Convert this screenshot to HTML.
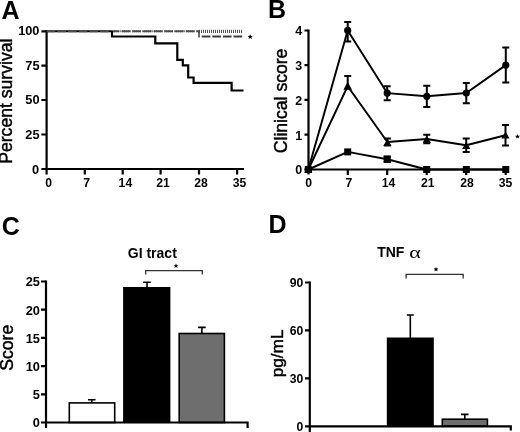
<!DOCTYPE html>
<html><head><meta charset="utf-8">
<style>
html,body{margin:0;padding:0;background:#fff;}
body{width:520px;height:432px;overflow:hidden;}
svg{display:block;will-change:transform;}
text{font-family:"Liberation Sans",sans-serif;fill:#000;}
.pl{font-size:25px;font-weight:bold;}
.tk{font-size:12.2px;font-weight:bold;}
.tkb{font-size:12.8px;}
.tkm{font-size:12.5px;}
.yl{font-size:17.6px;stroke:#000;stroke-width:0.45px;}
.ttl{font-size:14px;font-weight:bold;}
</style></head>
<body>
<svg width="520" height="432" viewBox="0 0 520 432">
<rect width="520" height="432" fill="#fff"/>

<!-- ============ PANEL A ============ -->
<text class="pl" x="1.5" y="19.1">A</text>
<text class="yl" transform="translate(12.4,101.2) rotate(-90)" text-anchor="middle">Percent survival</text>
<g stroke="#000" stroke-width="2.2" fill="none">
  <path d="M46.6,30.1 V174.5"/>
  <path d="M41.4,169 H244"/>
  <path d="M41.4,31.3 H47 M41.4,65.6 H47 M41.4,100 H47 M41.4,134.5 H47"/>
  <path d="M84.8,169 V174.5 M122.7,169 V174.5 M160.6,169 V174.5 M199,169 V174.5 M237.1,169 V174.5"/>
</g>
<g class="tk" text-anchor="end">
  <text class="tkb" x="39.5" y="35.3">100</text>
  <text class="tkb" x="39.5" y="69.8">75</text>
  <text class="tkb" x="39.5" y="104.4">50</text>
  <text class="tkb" x="39.5" y="138.9">25</text>
  <text class="tkb" x="39.2" y="173.8">0</text>
</g>
<g class="tk" text-anchor="middle">
  <text x="48.6" y="186.8">0</text>
  <text x="86.6" y="186.8">7</text>
  <text x="125.4" y="186.8">14</text>
  <text x="163" y="186.8">21</text>
  <text x="201" y="186.8">28</text>
  <text x="239.6" y="186.8">35</text>
</g>
<!-- dotted group -->
<path d="M199,31.4 H242.2" stroke="#555" stroke-width="3.2" stroke-dasharray="1,1" fill="none"/>
<!-- dashed group -->
<path d="M47,31.2 H112" stroke="#000" stroke-width="2.1" fill="none"/>
<path d="M112,31.2 H199.2" stroke="#888" stroke-width="2" stroke-dasharray="1,1" fill="none"/>
<path d="M46.6,31.2 H199.2" stroke="#4d4d4d" stroke-width="2.1" stroke-dasharray="8.7,2" fill="none"/>
<path d="M199,31 V37.4" stroke="#444" stroke-width="1.6" fill="none"/>
<path d="M201.7,36.6 H242.2" stroke="#3c3c3c" stroke-width="2" stroke-dasharray="8.7,1.9" fill="none"/>
<!-- solid group -->
<path d="M112,31 V36.5 H155.3 V43.4 H177.3 V59.9 H182.8 V65.3 H188.2 V77.5 H193.6 V82.8 H231.6 V90.5 H243.5" stroke="#000" stroke-width="2.2" fill="none"/>
<polygon points="250.2,34.2 251,36 252.8,36.1 251.4,37.2 251.9,39 250.2,38 248.5,39 249,37.2 247.6,36.1 249.4,36" fill="#000"/>

<!-- ============ PANEL B ============ -->
<text class="pl" x="267.9" y="18">B</text>
<text class="yl" transform="translate(286.6,100.9) rotate(-90)" text-anchor="middle">Clinical score</text>
<g stroke="#000" stroke-width="2.2" fill="none">
  <path d="M308.5,29.6 V174.5"/>
  <path d="M304.5,169.5 H509"/>
  <path d="M304.5,30.5 H308.5 M304.5,65.2 H308.5 M304.5,99.9 H308.5 M304.5,134.6 H308.5"/>
  <path d="M347.8,169.5 V175 M387.2,169.5 V175 M426.7,169.5 V175 M466.2,169.5 V175 M505.7,169.5 V175"/>
</g>
<g class="tk" text-anchor="end">
  <text class="tkm" x="302.2" y="35.2">4</text>
  <text class="tkm" x="302.2" y="70">3</text>
  <text class="tkm" x="302.2" y="104.8">2</text>
  <text class="tkm" x="302.2" y="139.5">1</text>
  <text class="tkm" x="302.2" y="174.2">0</text>
</g>
<g class="tk" text-anchor="middle">
  <text x="308.6" y="187">0</text>
  <text x="348.8" y="187">7</text>
  <text x="388.6" y="187">14</text>
  <text x="427.8" y="187">21</text>
  <text x="467" y="187">28</text>
  <text x="505.6" y="187">35</text>
</g>
<g stroke="#000" stroke-width="1.95" fill="none" stroke-linejoin="round">
  <path d="M308.3,169.5 L347.7,30.4 L387.2,93.1 L426.8,96.3 L466.3,93 L505.8,65.1"/>
  <path d="M308.3,169.5 L347.7,86.2 L387.4,142 L426.8,139 L466.2,145.3 L505.5,135.2"/>
  <path d="M308.3,169.5 L347.7,151.9 L387.2,159.3 L426.7,169.5 L466.3,169.5 L505.8,169.5"/>
</g>
<!-- error bars -->
<g stroke="#000" stroke-width="2" fill="none">
  <path d="M347.7,21.9 V41.4 M344.2,21.9 H351.2 M344.2,41.4 H351.2"/>
  <path d="M387.2,86.2 V100.3 M383.7,86.2 H390.7 M383.7,100.3 H390.7"/>
  <path d="M426.8,85.8 V107 M423.3,85.8 H430.3 M423.3,107 H430.3"/>
  <path d="M466.3,83 V103.2 M462.8,83 H469.8 M462.8,103.2 H469.8"/>
  <path d="M505.8,47.6 V82.6 M502.3,47.6 H509.3 M502.3,82.6 H509.3"/>

  <path d="M347.7,76.1 V89 M344.2,76.1 H351.2"/>
  <path d="M387.4,138.5 V145.5 M383.9,138.5 H390.9 M383.9,145.5 H390.9"/>
  <path d="M426.8,134.7 V143.3 M423.3,134.7 H430.3 M423.3,143.3 H430.3"/>
  <path d="M466.2,138.6 V152 M462.7,138.6 H469.7 M462.7,152 H469.7"/>
  <path d="M505.5,124.9 V145.5 M502,124.9 H509 M502,145.5 H509"/>

  <path d="M387.2,156.5 V162.1 M383.7,156.5 H390.7 M383.7,162.1 H390.7"/>
</g>
<!-- markers -->
<g fill="#000">
  <circle cx="308.3" cy="169.5" r="3.6"/>
  <circle cx="347.7" cy="30.4" r="3.6"/>
  <circle cx="387.2" cy="93.1" r="3.6"/>
  <circle cx="426.8" cy="96.3" r="3.6"/>
  <circle cx="466.3" cy="93" r="3.6"/>
  <circle cx="505.8" cy="65.1" r="3.6"/>

  <path d="M308.3,165.7 L312.4,172.9 H304.2z"/>
  <path d="M347.7,81.7 L352,89.8 H343.4z"/>
  <path d="M387.4,138.8 L391.5,146.0 H383.3z"/>
  <path d="M426.8,135.6 L430.9,142.8 H422.7z"/>
  <path d="M466.2,141.7 L470.3,148.9 H462.1z"/>
  <path d="M505.5,131.4 L509.6,138.6 H501.4z"/>
  <rect x="304.8" y="166" width="7" height="7"/>
  <rect x="344.2" y="148.4" width="7" height="7"/>
  <rect x="383.7" y="155.8" width="7" height="7"/>
  <rect x="423.2" y="166" width="7" height="7"/>
  <rect x="462.8" y="166" width="7" height="7"/>
  <rect x="502.3" y="166" width="7" height="7"/>
</g>
<g transform="translate(0,0.8)"><polygon points="517.5,133.2 518.2,134.9 520,135 518.6,136.1 519.1,137.8 517.5,136.8 515.9,137.8 516.4,136.1 515,135 516.8,134.9" fill="#000"/></g>

<!-- ============ PANEL C ============ -->
<text class="pl" x="1.8" y="234.8">C</text>
<text class="yl" transform="translate(13,347.8) rotate(-90)" text-anchor="middle">Score</text>
<text class="ttl" x="152.3" y="258.2" text-anchor="middle">GI tract</text>
<g class="tk" text-anchor="end">
  <text class="tkb" x="39.9" y="286.3">25</text>
  <text class="tkb" x="39.9" y="314.5">20</text>
  <text class="tkb" x="39.9" y="342.7">15</text>
  <text class="tkb" x="39.9" y="370.9">10</text>
  <text class="tkb" x="39.9" y="399.1">5</text>
  <text class="tkb" x="39.9" y="427.2">0</text>
</g>
<!-- bars -->
<rect x="69.3" y="402.9" width="45.4" height="19.6" fill="#fff" stroke="#000" stroke-width="1.6"/>
<rect x="123.1" y="287" width="47.3" height="135.5" fill="#000"/>
<rect x="179.2" y="333.5" width="45.2" height="89" fill="#6e6e6e" stroke="#000" stroke-width="1.6"/>
<g stroke="#000" stroke-width="1.6" fill="none">
  <path d="M91.8,399.7 V403 M88,399.7 H95.6"/>
  <path d="M147,282.2 V287 M143.2,282.2 H150.8"/>
  <path d="M201.9,327.4 V333 M198.1,327.4 H205.7"/>
</g>
<g stroke="#000" stroke-width="2.2" fill="none">
  <path d="M46,280.5 V428"/>
  <path d="M41,422.5 H247.6 V428"/>
  <path d="M41,281.5 H46 M41,309.7 H46 M41,337.9 H46 M41,366.1 H46 M41,394.3 H46"/>
</g>
<path d="M145.7,274.6 V270.6 H202.3 V274.6" stroke="#333" stroke-width="1.3" fill="none"/>
<polygon points="176,263.6 176.7,265.2 178.4,265.3 177.1,266.4 177.6,268 176,267.1 174.4,268 174.9,266.4 173.6,265.3 175.3,265.2" fill="#000"/>

<!-- ============ PANEL D ============ -->
<text class="pl" x="268.6" y="232.6">D</text>
<text class="yl" transform="translate(282.5,353.4) rotate(-90)" text-anchor="middle" style="font-size:17.2px">pg/mL</text>
<text class="ttl" x="377.2" y="256.8">TNF</text>
<text transform="translate(409.2,258) scale(1.38,1)" style="font-family:'Liberation Serif',serif;font-size:16px;">α</text>
<g class="tk" text-anchor="end">
  <text x="303.4" y="287">90</text>
  <text x="303.4" y="335">60</text>
  <text x="303.4" y="383">30</text>
  <text x="303.4" y="430.7">0</text>
</g>
<rect x="386.8" y="337.5" width="47" height="88.8" fill="#000"/>
<rect x="442.3" y="419.2" width="45.1" height="7" fill="#6e6e6e" stroke="#000" stroke-width="1.6"/>
<g stroke="#000" stroke-width="1.6" fill="none">
  <path d="M410.3,315 V338 M406.8,315 H413.8"/>
  <path d="M464.8,414.4 V419 M461.1,414.4 H468.5"/>
</g>
<g stroke="#000" stroke-width="2.2" fill="none">
  <path d="M309.8,281.5 V432"/>
  <path d="M305,426.3 H510.8 V430.5"/>
  <path d="M305,282.5 H309.8 M305,330.4 H309.8 M305,378.4 H309.8"/>
</g>
<path d="M406.1,278.4 V274.4 H463.2 V278.4" stroke="#333" stroke-width="1.3" fill="none"/>
<polygon points="436,266.9 436.7,268.5 438.4,268.6 437.1,269.7 437.6,271.3 436,270.4 434.4,271.3 434.9,269.7 433.6,268.6 435.3,268.5" fill="#000"/>
</svg>
</body></html>
